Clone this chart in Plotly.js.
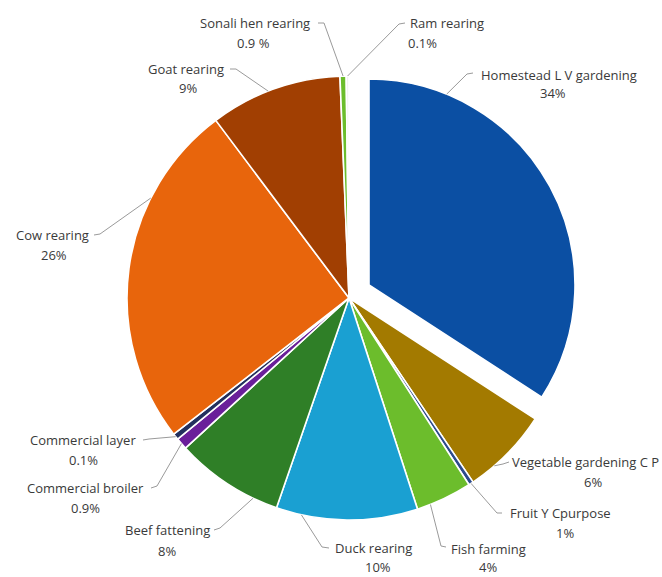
<!DOCTYPE html>
<html><head><meta charset="utf-8">
<script src="https://cdn.plot.ly/plotly-3.0.1.min.js"></script>
<style>html,body{margin:0;padding:0;background:#fff}#chart{width:662px;height:577px}</style>
</head><body><div id="chart"></div>
<script>
// ---- data ----
const categories = ["Homestead L V gardening","Vegetable gardening C P","Fruit Y Cpurpose","Fish farming","Duck rearing","Beef fattening","Commercial broiler","Commercial layer","Cow rearing","Goat rearing","Sonali hen rearing","Ram rearing"];
const values = [34.2, 6.4, 0.35, 4.1, 10.3, 7.9, 0.85, 0.45, 25.3, 9.6, 0.45, 0.2];
const valueLabels = ["34%","6%","1%","4%","10%","8%","0.9%","0.1%","26%","9%","0.9 %","0.1%"];
const colors = ["#0b4fa3","#a37a00","#2c4a8c","#6cbd2c","#1aa0d2","#2f7f27","#6a1f9a","#23305e","#e8650c","#a13f02","#6cbd2c","#f1f1f1"];

// ---- layout helpers (pixels) ----
const W = 662, H = 577;
const main = {cx: 349, cy: 298, r: 222};
const pulled = {cx: 369, cy: 285, r: 206};   // exploded first slice
const pulledIndex = 0;
// label layout: name anchor, value centre, leader start, elbow, fraction along slice
const labelLayout = [
  {n:[559,75], v:[553,93], a:[473,73], e:[467,74], f:0.18},
  {n:[660,462,'right'], v:[593,482], a:[509,462], e:[503,464], f:0.7},
  {n:[560,513], v:[565,533], a:[502,513], e:[497,513], f:0.5},
  {n:[488,549], v:[488,567], a:[446,547], e:[441,546], f:0.76},
  {n:[373,548], v:[378,567], a:[329,548], e:[322,547], f:0.82},
  {n:[167,530], v:[167,551], a:[214,530], e:[220,528], f:0.23},
  {n:[85,488], v:[85,508], a:[151,488], e:[157,486], f:0.5},
  {n:[83,440], v:[83,460], a:[143,440], e:[149,439], f:0.5},
  {n:[52,235], v:[54,255], a:[94,235], e:[100,234], f:0.71},
  {n:[186,69], v:[188,88], a:[230,69], e:[236,69], f:0.45},
  {n:[255,23], v:[253,43], a:[318,23], e:[324,23], f:0.5},
  {n:[447,23], v:[423,43], a:[405,23], e:[399,24], f:0.5}
];

const px = x => x / W, py = y => 1 - y / H;
function domainOf(c){ return {x:[px(c.cx-c.r), px(c.cx+c.r)], y:[py(c.cy+c.r), py(c.cy-c.r)]}; }

const total = values.reduce((s,v)=>s+v,0);
const starts = []; let acc = 0;
values.forEach(v => { starts.push(acc/total*360); acc += v; });

const clear = 'rgba(0,0,0,0)';
const traceMain = {
  type:'pie', labels: categories, values: values, sort:false, direction:'clockwise', rotation:0,
  textinfo:'none', hoverinfo:'skip', showlegend:false,
  marker:{colors: colors.map((c,i)=> i===pulledIndex ? clear : c),
          line:{color:'#ffffff', width: colors.map((c,i)=> i===pulledIndex ? 0 : 1.6)}},
  domain: domainOf(main)
};
const tracePulled = {
  type:'pie', labels: categories, values: values, sort:false, direction:'clockwise', rotation:0,
  textinfo:'none', hoverinfo:'skip', showlegend:false,
  marker:{colors: colors.map((c,i)=> i===pulledIndex ? c : clear),
          line:{color:'#ffffff', width: colors.map((c,i)=> i===pulledIndex ? 1.6 : 0)}},
  domain: domainOf(pulled)
};

const font = {family:'"Open Sans", "Liberation Sans", Arial, sans-serif', size:13, color:'#3a3a3a'};
const annotations = [], shapes = [];
categories.forEach((name,i) => {
  const L = labelLayout[i];
  const ang = (starts[i] + L.f * values[i]/total*360) * Math.PI/180;
  const c = i===pulledIndex ? pulled : main;
  const ex = c.cx + c.r*Math.sin(ang), ey = c.cy - c.r*Math.cos(ang);
  annotations.push({xref:'paper', yref:'paper', x:px(L.n[0]), y:py(L.n[1]), text:name, showarrow:false,
    xanchor: L.n[2] || 'center', yanchor:'middle', font:font, borderpad:0});
  annotations.push({xref:'paper', yref:'paper', x:px(L.v[0]), y:py(L.v[1]), text:valueLabels[i], showarrow:false,
    xanchor:'center', yanchor:'middle', font:font, borderpad:0});
  shapes.push({type:'path', xref:'paper', yref:'paper',
    path:`M ${px(L.a[0])} ${py(L.a[1])} L ${px(L.e[0])} ${py(L.e[1])} L ${px(ex)} ${py(ey)}`,
    line:{color:'#9a9a9a', width:1}});
});

Plotly.newPlot('chart', [traceMain, tracePulled], {
  width: W, height: H, margin:{l:0,r:0,t:0,b:0},
  paper_bgcolor:'#ffffff', plot_bgcolor:'#ffffff',
  annotations: annotations, shapes: shapes
}, {displayModeBar:false, staticPlot:true});
</script>
</body></html>
